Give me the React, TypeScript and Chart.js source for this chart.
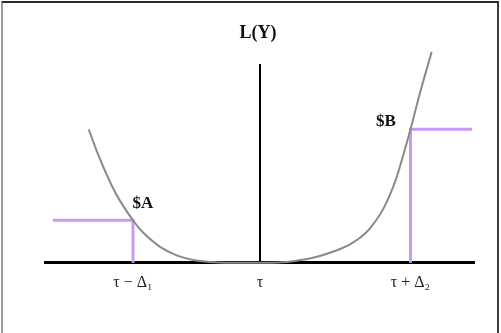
import React, { useEffect, useRef } from "react";
import { Chart, registerables } from "chart.js";

Chart.register(...registerables);

// x: deviation from target τ (τ = 0); y: loss L(Y)
const LOSS_X = [-17.13, -16.0, -14.83, -14.0, -12.7, -11.67, -10.0, -8.33, -6.67, -5.0, -3.0, 0, 2.67, 5.3, 7.0, 8.0, 9.0, 10.0, 11.0, 12.33, 13.5, 14.33, 15.05, 16.0, 17.17];
const LOSS_Y = [13.36, 10.37, 7.74, 6.2, 4.25, 3.0, 1.6, 0.75, 0.28, 0.08, 0, 0, 0.08, 0.5, 1.0, 1.38, 1.85, 2.5, 3.45, 5.4, 8.1, 10.8, 13.37, 17.0, 21.13];

const COST_A_X = [-20.7, -12.7, -12.7];
const COST_A_Y = [4.25, 4.25, 0];
const COST_B_X = [15.05, 15.05, 21.2];
const COST_B_Y = [0, 13.37, 13.37];

const TICK_VALUES = [-12.7, 0, 15.05];
const TICK_LABELS = ["τ − Δ₁", "τ", "τ + Δ₂"];

const X_MIN = -21.5;
const X_MAX = 21.4;
const Y_MIN = 0;
const Y_MAX = 19.8;

const ANNOTATION_TEXT = ["L(Y)", "$A", "$B"];
const ANNOTATION_X = [-0.2, -11.7, 12.6];
const ANNOTATION_Y = [23.0, 5.9, 14.1];

const toPoints = (xs: number[], ys: number[]) => xs.map((x, i) => ({ x, y: ys[i] }));

const annotationPlugin = {
  id: "annotationText",
  afterDatasetsDraw(chart: any) {
    const { ctx, scales } = chart;
    ctx.save();
    ctx.fillStyle = "#111";
    ctx.textAlign = "center";
    ctx.textBaseline = "middle";
    ANNOTATION_TEXT.forEach((t, i) => {
      ctx.font = i === 0 ? "bold 18px 'Liberation Serif'" : "bold 17px 'Liberation Serif'";
      ctx.fillText(t, scales.x.getPixelForValue(ANNOTATION_X[i]), scales.y.getPixelForValue(ANNOTATION_Y[i]));
    });
    ctx.restore();
  },
};

export default function App() {
  const ref = useRef<HTMLCanvasElement>(null);
  useEffect(() => {
    document.body.style.margin = "0";
    const chart = new Chart(ref.current!, {
      type: "line",
      data: {
        datasets: [
          {
            data: toPoints(LOSS_X, LOSS_Y),
            borderColor: "#8a8a8a",
            borderWidth: 2,
            pointRadius: 0,
            tension: 0.4,
            clip: false,
          },
          {
            data: toPoints(COST_A_X, COST_A_Y),
            borderColor: "#c89af2",
            borderWidth: 3,
            pointRadius: 0,
            tension: 0,
            clip: false,
          },
          {
            data: toPoints(COST_B_X, COST_B_Y),
            borderColor: "#c89af2",
            borderWidth: 3,
            pointRadius: 0,
            tension: 0,
            clip: false,
          },
        ],
      },
      options: {
        animation: false,
        responsive: false,
        layout: { padding: { left: 45, right: 27, top: 65, bottom: 31 } },
        plugins: { legend: { display: false }, tooltip: { enabled: false }, title: { display: false } },
        scales: {
          x: {
            type: "linear",
            min: X_MIN,
            max: X_MAX,
            grid: { display: false, drawTicks: false },
            border: { display: true, color: "#000", width: 3 },
            afterBuildTicks: (scale: any) => {
              scale.ticks = TICK_VALUES.map((v) => ({ value: v }));
            },
            ticks: {
              autoSkip: false,
              maxRotation: 0,
              padding: 10,
              color: "#222",
              font: { family: "'Liberation Serif'", size: 16 },
              callback: (v: any) => {
                const i = TICK_VALUES.indexOf(Number(v));
                return i >= 0 ? TICK_LABELS[i] : "";
              },
            },
          },
          y: {
            type: "linear",
            min: Y_MIN,
            max: Y_MAX,
            position: { x: 0 } as any,
            grid: { display: false, drawTicks: false },
            border: { display: true, color: "#000", width: 2 },
            ticks: { display: false },
          },
        },
      },
      plugins: [annotationPlugin],
    });
    return () => chart.destroy();
  }, []);
  return (
    <div style={{ position: "relative", width: 501, height: 333, overflow: "hidden", background: "#fff" }}>
      <canvas ref={ref} width={501} height={333} style={{ display: "block" }} />
      <div
        style={{
          position: "absolute",
          left: 1,
          top: 1,
          width: 494,
          height: 340,
          borderTop: "2px solid #2a2a2a",
          borderLeft: "2px solid #9a9a9a",
          borderRight: "2px solid #3a3a3a",
          pointerEvents: "none",
        }}
      />
    </div>
  );
}
